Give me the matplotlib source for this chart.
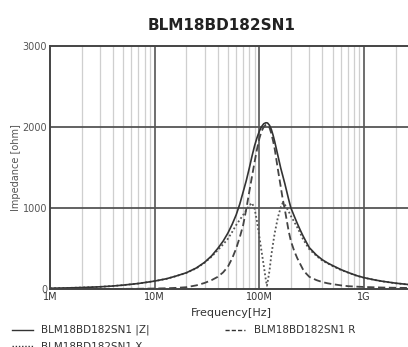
import matplotlib
matplotlib.use("Agg")
import matplotlib.pyplot as plt
import numpy as np

# frequency in MHz, impedance in ohm
freq_mhz = [1, 1.5, 2, 3, 4, 5, 7, 10, 13, 16, 20, 25, 30, 35, 40, 45, 50, 55, 60, 65,
            70, 75, 80, 85, 90, 95, 100, 105, 110, 115, 118, 120, 125, 130, 135, 140, 150,
            160, 167, 175, 190, 200, 215, 230, 245, 260, 280, 300, 350, 400, 450, 500,
            600, 700, 850, 1000, 1250, 1500, 2000, 3000, 5000, 10000]
z_abs = [9, 13.5, 18, 27, 37, 48, 68, 98, 127, 160, 200, 260, 330, 410, 500, 590, 690, 800, 915, 1050,
         1200, 1340, 1490, 1640, 1770, 1870, 1950, 2005, 2040, 2052, 2052, 2048, 2020, 1970, 1900, 1820, 1650,
         1490, 1400, 1300, 1110, 1000, 900, 810, 730, 660, 580, 510, 420, 360, 320, 290,
         240, 205, 165, 140, 113, 95, 72, 48, 30, 15]
r_val = [0.1, 0.2, 0.3, 0.5, 1, 1.5, 3, 6, 9, 14, 22, 45, 75, 110, 150, 205, 275, 380, 500, 640,
         790, 990, 1200, 1390, 1570, 1730, 1860, 1950, 2000, 2025, 2028, 2025, 1990, 1920, 1830, 1730, 1480,
         1260, 1110, 980, 720, 590, 470, 380, 310, 245, 190, 150, 110, 85, 70, 60,
         45, 35, 29, 25, 21, 18, 15, 12, 10, 8]
x_val = [9, 13.5, 18, 27, 37, 48, 68, 97, 126, 159, 198, 255, 325, 400, 480, 550, 620, 705, 790, 855,
         915, 975, 1030, 1062, 990, 830, 640, 460, 290, 120, 40, 90, 230, 420, 560, 690, 880,
         1010, 1062, 1040, 960, 900, 830, 760, 690, 620, 550, 490, 410, 350, 315, 283,
         235, 203, 163, 138, 112, 94, 71, 47, 30, 15]

y_ticks = [0, 1000, 2000, 3000]
x_ticks_hz = [1e6, 1e7, 1e8, 1e9]
x_tick_labels = ["1M", "10M", "100M", "1G"]
part = "BLM18BD182SN1"

narrow = ['Liberation Sans Narrow', 'DejaVu Sans']
ink = "#333333"

fig = plt.figure(figsize=(4.08, 3.47), dpi=100)
W, H = 408.0, 347.0
# axes: left at 50px, one decade = 104.7px, runs past the right edge of the picture
ax = fig.add_axes([50 / W, (H - 289) / H, 4 * 104.7 / W, 243 / H])

f_hz = np.array(freq_mhz) * 1e6
ax.semilogx(f_hz, x_val, linestyle=(0, (1, 1.3)), color="#555555", lw=1.3)
ax.semilogx(f_hz, r_val, linestyle=(0, (4, 2)), color="#444444", lw=1.3)
ax.semilogx(f_hz, z_abs, linestyle="-", color=ink, lw=1.2)

ax.set_xlim(1e6, 1e10)
ax.set_ylim(0, 3000)

# grid
for d in range(6, 10):
    for k in range(2, 10):
        ax.axvline(k * 10 ** d, color="#cfcfcf", lw=0.9, zorder=0)
    if d > 6:
        ax.axvline(10 ** d, color="#555555", lw=1.2, zorder=0)
for yv in y_ticks[1:3]:
    ax.axhline(yv, color="#555555", lw=1.3, zorder=0)

for s in ["left", "top", "bottom"]:
    ax.spines[s].set_color("#444444")
    ax.spines[s].set_linewidth(1.4)
ax.spines["right"].set_visible(False)

ax.set_yticks(y_ticks)
ax.set_yticklabels([str(v) for v in y_ticks], family=narrow, fontsize=7, color="#555555")
ax.set_xticks(x_ticks_hz)
ax.set_xticklabels(x_tick_labels, family=narrow, fontsize=7, color=ink)
ax.minorticks_off()
ax.tick_params(axis="both", length=0, pad=2)

ax.set_ylabel("Impedance [ohm]", family=narrow, fontsize=7, color="#555555", labelpad=0)
ax.yaxis.set_label_coords(-29 / (4 * 104.7), (289 - 168) / 243)

fig.text(231 / W, 1 - 313 / H, "Frequency[Hz]", family=narrow, fontsize=8, color=ink,
         ha="center", va="center")

fig.text(222 / W, 1 - 25 / H, part, fontsize=11, fontweight="bold", color="#222222",
         ha="center", va="center")

# legend drawn by hand under the axes
fig.add_artist(plt.Line2D([12 / W, 33 / W], [1 - 330 / H] * 2, color=ink, lw=1.0))
fig.text(41 / W, 1 - 330 / H, part + " |Z|", family=narrow, fontsize=7.5, color=ink, va="center")
fig.add_artist(plt.Line2D([225 / W, 245 / W], [1 - 330 / H] * 2, color=ink, lw=1.0,
                          linestyle=(0, (3, 1.5))))
fig.text(254 / W, 1 - 330 / H, part + " R", family=narrow, fontsize=7.5, color=ink, va="center")
fig.add_artist(plt.Line2D([12 / W, 33 / W], [1 - 346 / H] * 2, color=ink, lw=1.0,
                          linestyle=(0, (1, 1.3))))
fig.text(41 / W, 1 - 347 / H, part + " X", family=narrow, fontsize=7.5, color=ink, va="center")

fig.savefig("out.png", dpi=100)
